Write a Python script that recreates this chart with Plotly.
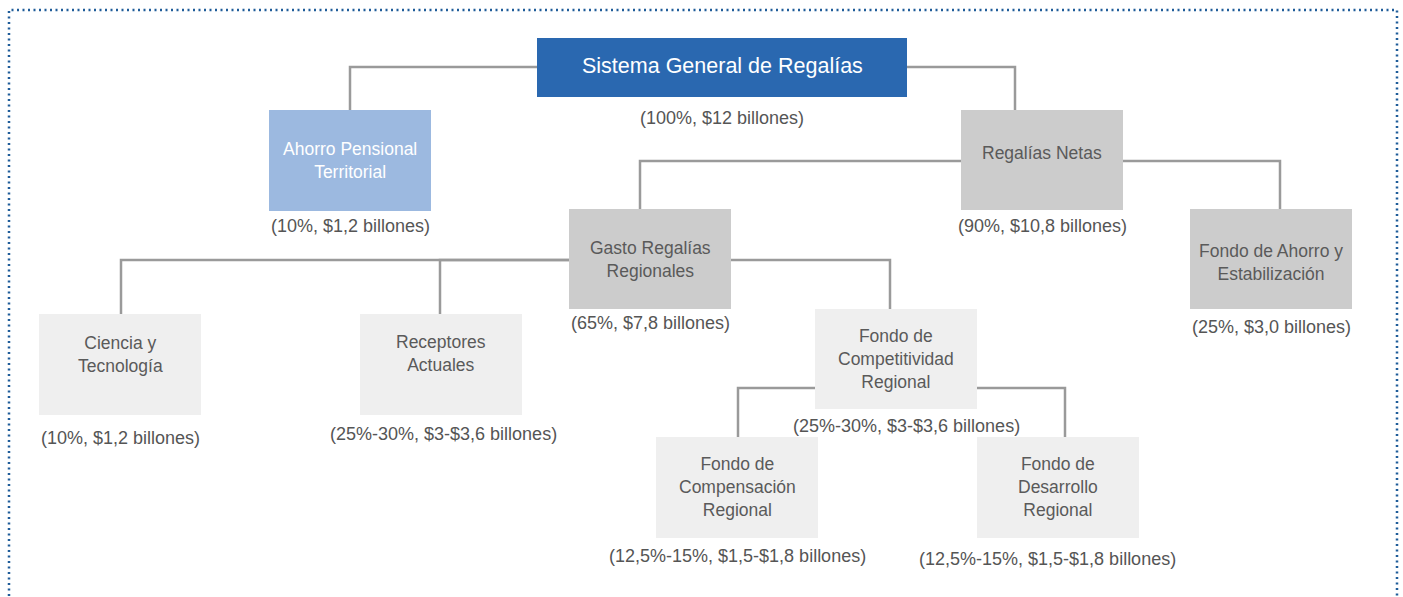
import plotly.graph_objects as go

# ---- content ----
node_names = [
    "Sistema General de Regalías",
    "Ahorro Pensional<br>Territorial",
    "Regalías Netas",
    "Gasto Regalías<br>Regionales",
    "Fondo de Ahorro y<br>Estabilización",
    "Ciencia y<br>Tecnología",
    "Receptores<br>Actuales",
    "Fondo de<br>Competitividad<br>Regional",
    "Fondo de<br>Compensación<br>Regional",
    "Fondo de<br>Desarrollo<br>Regional",
]
node_labels = [
    "(100%, $12 billones)",
    "(10%, $1,2 billones)",
    "(90%, $10,8 billones)",
    "(65%, $7,8 billones)",
    "(25%, $3,0 billones)",
    "(10%, $1,2 billones)",
    "(25%-30%, $3-$3,6 billones)",
    "(25%-30%, $3-$3,6 billones)",
    "(12,5%-15%, $1,5-$1,8 billones)",
    "(12,5%-15%, $1,5-$1,8 billones)",
]
node_parent = [None, 0, 0, 2, 2, 3, 3, 3, 7, 7]

# ---- geometry (pixel space) ----
box_x0 = [537, 269, 961, 569, 1190, 39, 360, 815, 656, 977]
box_x1 = [907, 431, 1123, 731, 1352, 201, 522, 977, 818, 1139]
box_y0 = [38, 110, 110, 209, 209, 314, 314, 309, 437, 437]
box_y1 = [97, 211, 210, 309, 309, 415, 415, 409, 538, 538]
text_y = [66, 160, 153, 259, 262, 354, 353, 359, 487, 487]
label_x = [722, 350, 1042, 650, 1271, 120, 443, 906, 737, 1047]
label_y = [118, 226, 226, 323, 327, 438, 434, 426, 556, 559]
# connector: y of horizontal run from parent, x of vertical drop to child
conn_y = [None, 67, 67, 161, 161, 260, 260, 260, 388, 388]
conn_x = [None, 350, 1015, 640, 1280, 121, 440, 890, 738, 1065]

fill_colors = ["#2a68b0", "#9cb9e0", "#cccccc", "#cccccc", "#cccccc",
               "#efefef", "#efefef", "#efefef", "#efefef", "#efefef"]
text_colors = ["#ffffff", "#ffffff", "#5a5a5a", "#5a5a5a", "#5a5a5a",
               "#5a5a5a", "#5a5a5a", "#5a5a5a", "#5a5a5a", "#5a5a5a"]
text_sizes = [21.5, 17.5, 17.5, 17.5, 17.5, 17.5, 17.5, 17.5, 17.5, 17.5]

W, H = 1403, 597
FONT = "Liberation Sans, Arial, sans-serif"

fig = go.Figure()
shapes = []
annotations = []

# connectors (drawn first, beneath boxes)
for i, p in enumerate(node_parent):
    if p is None:
        continue
    cx_parent = (box_x0[p] + box_x1[p]) / 2
    cy = conn_y[i]
    cx = conn_x[i]
    start_x = box_x0[p] if cx < cx_parent else box_x1[p]
    shapes.append(dict(type="path",
                       path=f"M {start_x},{cy} L {cx},{cy} L {cx},{box_y0[i]}",
                       line=dict(color="#9a9a9a", width=2.5),
                       xref="x", yref="y", layer="below"))

# boxes and texts
for i in range(len(node_names)):
    shapes.append(dict(type="rect", x0=box_x0[i], x1=box_x1[i],
                       y0=box_y0[i], y1=box_y1[i],
                       fillcolor=fill_colors[i], line=dict(width=0),
                       xref="x", yref="y", layer="above"))
    annotations.append(dict(x=(box_x0[i] + box_x1[i]) / 2, y=text_y[i],
                            xref="x", yref="y", text=node_names[i],
                            showarrow=False, align="center",
                            xanchor="center", yanchor="middle",
                            font=dict(family=FONT, size=text_sizes[i],
                                      color=text_colors[i])))
    annotations.append(dict(x=label_x[i], y=label_y[i], xref="x", yref="y",
                            text=node_labels[i], showarrow=False,
                            xanchor="center", yanchor="middle",
                            font=dict(family=FONT, size=18, color="#555555")))

# dotted frame
shapes.append(dict(type="path", path="M 9,640 L 9,10 L 1397,10 L 1397,640",
                   line=dict(color="#1f5c99", width=2.5, dash="2px,3.5px"),
                   xref="x", yref="y"))

fig.update_layout(
    width=W, height=H,
    margin=dict(l=0, r=0, t=0, b=0),
    paper_bgcolor="white", plot_bgcolor="white",
    xaxis=dict(range=[0, W], visible=False, fixedrange=True),
    yaxis=dict(range=[H, 0], visible=False, fixedrange=True),
    shapes=shapes, annotations=annotations, showlegend=False,
)

fig.write_html("out.html",
               config={"displayModeBar": False},
               post_script="document.body.style.margin='0';"
                           "document.body.style.overflow='hidden';")
